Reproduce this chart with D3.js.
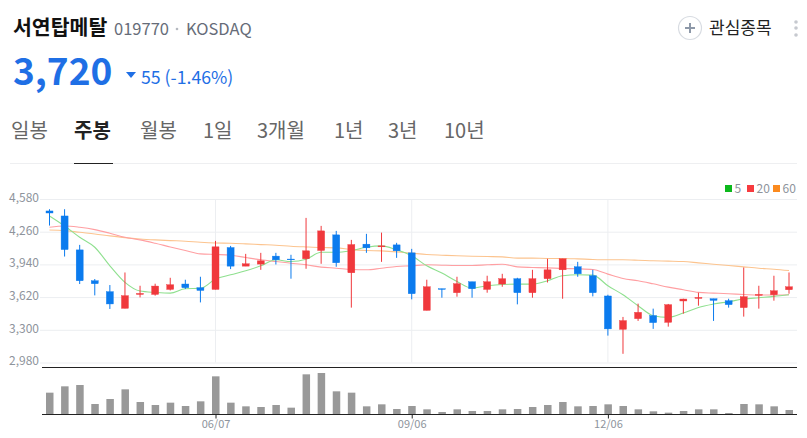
<!DOCTYPE html>
<html>
<head>
<meta charset="utf-8">
<script src="https://cdn.jsdelivr.net/npm/d3@7"></script>
<style>
    body { margin: 0; background: #fff; }
    svg { display: block; font-family: "Noto Sans CJK KR", sans-serif; }
</style>
</head>
<body>
<div id="chart"></div>
<script>
const weeks = ["03/22", "03/29", "04/05", "04/12", "04/19", "04/26", "05/03", "05/10", "05/17", "05/24",
    "05/31", "06/07", "06/14", "06/21", "06/28", "07/05", "07/12", "07/19", "07/26", "08/02",
    "08/09", "08/16", "08/23", "08/30", "09/06", "09/13", "09/20", "09/27", "10/04", "10/11",
    "10/18", "10/25", "11/01", "11/08", "11/15", "11/22", "11/29", "12/06", "12/13", "12/20",
    "12/27", "01/03", "01/10", "01/17", "01/24", "01/31", "02/07", "02/14", "02/21", "02/28"];

const open = [4463, 4414, 4082, 3780, 3673, 3510, 3646, 3646, 3695, 3748,
    3712, 3695, 4105, 3923, 3943, 4021, 3992, 3995, 4076, 4229,
    3858, 4138, 4112, 4131, 4053, 3490, 3702, 3663, 3770, 3695,
    3748, 3800, 3663, 3800, 3887, 3917, 3829, 3631, 3305, 3409,
    3439, 3373, 3582, 3607, 3604, 3585, 3517, 3637, 3643, 3692];
const close = [4443, 4085, 3780, 3751, 3553, 3634, 3656, 3728, 3741, 3712,
    3685, 4112, 3923, 3946, 3975, 3985, 3985, 4073, 4268, 3956,
    4134, 4102, 4121, 4073, 3653, 3721, 3695, 3751, 3702, 3770,
    3800, 3663, 3800, 3887, 3995, 3848, 3663, 3309, 3390, 3471,
    3370, 3546, 3601, 3617, 3588, 3546, 3624, 3646, 3682, 3721];
const high = [4480, 4480, 4131, 3797, 3738, 3861, 3731, 3751, 3809, 3790,
    3819, 4170, 4121, 4043, 4053, 4053, 4034, 4395, 4317, 4268,
    4180, 4239, 4251, 4151, 4092, 3790, 3702, 3819, 3770, 3829,
    3848, 3809, 3887, 3995, 3995, 3965, 3887, 3643, 3426, 3556,
    3507, 3553, 3604, 3663, 3604, 3604, 3910, 3731, 3829, 3861];
const low = [4320, 4017, 3748, 3637, 3504, 3510, 3617, 3634, 3685, 3699,
    3568, 3695, 3894, 3923, 3887, 3939, 3800, 3897, 3946, 3917,
    3517, 4053, 3965, 4004, 3598, 3490, 3614, 3624, 3614, 3663,
    3721, 3549, 3614, 3763, 3604, 3819, 3627, 3243, 3065, 3387,
    3309, 3331, 3458, 3536, 3387, 3517, 3429, 3507, 3585, 3653];

const ma5 = [4414, 4316, 4206, 4108, 3926, 3764, 3679, 3666, 3659, 3702,
    3705, 3796, 3838, 3877, 3926, 3985, 3968, 3991, 4059, 4059,
    4076, 4108, 4121, 4082, 4024, 3926, 3855, 3773, 3708, 3731,
    3744, 3747, 3747, 3780, 3829, 3838, 3835, 3731, 3643, 3536,
    3438, 3422, 3464, 3519, 3552, 3575, 3601, 3614, 3627, 3643];
const ma20 = [4303, 4316, 4303, 4280, 4245, 4206, 4180, 4147, 4111, 4076,
    4043, 4037, 4030, 4007, 3985, 3968, 3952, 3936, 3913, 3903,
    3890, 3887, 3903, 3920, 3926, 3936, 3932, 3929, 3929, 3936,
    3942, 3916, 3910, 3906, 3900, 3897, 3890, 3845, 3802, 3780,
    3750, 3718, 3692, 3666, 3659, 3653, 3646, 3640, 3640, 3643];
const ma60 = [4277, 4271, 4254, 4238, 4219, 4202, 4189, 4180, 4173, 4167,
    4157, 4150, 4147, 4141, 4134, 4128, 4118, 4111, 4105, 4102,
    4085, 4076, 4072, 4063, 4050, 4037, 4030, 4024, 4020, 4017,
    4014, 4001, 4001, 3998, 3998, 3994, 3988, 3985, 3985, 3981,
    3975, 3972, 3968, 3955, 3942, 3929, 3916, 3903, 3893, 3880];

const volume = [64, 83, 87, 30, 45, 74, 36, 27, 34, 24,
    38, 113, 34, 23, 21, 27, 19, 119, 123, 68,
    64, 23, 29, 15, 24, 14, 6, 14, 9, 9,
    14, 15, 21, 27, 36, 23, 24, 29, 24, 14,
    8, 4, 9, 14, 14, 3, 30, 29, 23, 12];

const priceTicks = [2980, 3300, 3620, 3940, 4260, 4580];
const dateTicks = ["06/07", "09/06", "12/06"];
const tabs = ["일봉", "주봉", "월봉", "1일", "3개월", "1년", "3년", "10년"];
const tabX = [11, 74, 140, 203, 257, 334, 388, 444];
const legendNames = ["5", "20", "60"];
const legendColors = ["#0cb81c", "#f73b3f", "#fb8a1e"];
const maColors = ["#8fe08f", "#ff9fa2", "#fcc48f"];

const blue = "#0b7bee";
const red = "#f0383c";
const width = 807, height = 438;
const plotLeft = 42, plotRight = 797;

const svg = d3.select("#chart")
    .append("svg")
    .attr("width", width)
    .attr("height", height);

// header
svg.append("text").attr("x", 13).attr("y", 35).attr("font-size", 20.5).attr("font-weight", 700)
    .attr("fill", "#111").text("서연탑메탈");
svg.append("text").attr("x", 114).attr("y", 35).attr("font-size", 16.5).attr("fill", "#666c78")
    .text("019770");
svg.append("circle").attr("cx", 177).attr("cy", 29).attr("r", 1.3).attr("fill", "#b5b9c0");
svg.append("text").attr("x", 186).attr("y", 35).attr("font-size", 16.5).attr("fill", "#666c78")
    .text("KOSDAQ");

svg.append("text").attr("x", 13).attr("y", 85).attr("font-size", 37).attr("font-weight", 700)
    .attr("fill", "#1f6fe5").text("3,720");
svg.append("path").attr("d", "M126,72h10l-5,6z").attr("fill", "#1f6fe5");
svg.append("text").attr("x", 141).attr("y", 84).attr("font-size", 17.7).attr("fill", "#1f6fe5")
    .text("55 (-1.46%)");

// watch button
svg.append("circle").attr("cx", 690).attr("cy", 28).attr("r", 11.5)
    .attr("fill", "none").attr("stroke", "#d8dce2").attr("stroke-width", 1.2);
svg.append("path").attr("d", "M685,28h10M690,23v10").attr("stroke", "#8d98a8").attr("stroke-width", 2);
svg.append("text").attr("x", 709).attr("y", 34).attr("font-size", 17).attr("fill", "#222")
    .text("관심종목");
svg.selectAll(".menuDot")
    .data([22, 28, 35])
    .join("circle")
    .attr("class", "menuDot")
    .attr("cx", 796)
    .attr("cy", d => d)
    .attr("r", 1.8)
    .attr("fill", "#c6c9cf");

// tabs
svg.selectAll(".tab")
    .data(tabs)
    .join("text")
    .attr("class", "tab")
    .attr("x", (d, i) => tabX[i])
    .attr("y", 138)
    .attr("font-size", 20)
    .attr("font-weight", d => d === "주봉" ? 700 : 400)
    .attr("fill", d => d === "주봉" ? "#222" : "#666")
    .text(d => d);
svg.append("line").attr("x1", 10).attr("x2", 797).attr("y1", 163.5).attr("y2", 163.5)
    .attr("stroke", "#eeeff1");
svg.append("line").attr("x1", 74).attr("x2", 113).attr("y1", 163.5).attr("y2", 163.5)
    .attr("stroke", "#222");

// scales
const x = d3.scalePoint().domain(weeks).range([49.5, 789]);
const y = d3.scaleLinear().domain([2980, 4580]).range([362.5, 199]);
const yVol = d3.scaleLinear().domain([0, 141]).range([414, 367]);

// price axis + horizontal grid
const yAxis = svg.append("g")
    .attr("transform", `translate(${plotLeft - 2},0)`)
    .call(d3.axisLeft(y)
        .tickValues(priceTicks)
        .tickFormat(d3.format(","))
        .tickSize(-(plotRight - plotLeft + 2))
        .tickPadding(1));
yAxis.select(".domain").remove();
yAxis.selectAll("line").attr("stroke", "#eceef1");
yAxis.selectAll("text")
    .attr("font-family", "'Noto Sans CJK KR', sans-serif")
    .attr("font-size", 12)
    .attr("fill", "#8e949c")
    .attr("dy", "0.2em");

// vertical grid
svg.selectAll(".vGrid")
    .data(dateTicks)
    .join("line")
    .attr("class", "vGrid")
    .attr("x1", d => x(d))
    .attr("x2", d => x(d))
    .attr("y1", y(4580))
    .attr("y2", y(2980))
    .attr("stroke", "#eceef1");

// moving averages
const maLine = d3.line()
    .x((d, i) => x(weeks[i]))
    .y(d => y(d))
    .curve(d3.curveMonotoneX);
svg.selectAll(".ma")
    .data([ma60, ma20, ma5])
    .join("path")
    .attr("class", "ma")
    .attr("d", maLine)
    .attr("fill", "none")
    .attr("stroke", (d, i) => maColors[2 - i])
    .attr("stroke-width", 1.1);

// candles
const candles = svg.append("g")
    .selectAll("g")
    .data(weeks)
    .join("g")
    .attr("fill", (d, i) => close[i] >= open[i] ? red : blue)
    .attr("stroke", (d, i) => close[i] >= open[i] ? red : blue);
candles.append("line")
    .attr("x1", d => x(d))
    .attr("x2", d => x(d))
    .attr("y1", (d, i) => y(high[i]))
    .attr("y2", (d, i) => y(low[i]))
    .attr("stroke-width", 1);
candles.append("rect")
    .attr("x", d => x(d) - 3.5)
    .attr("width", 7)
    .attr("y", (d, i) => y(Math.max(open[i], close[i])))
    .attr("height", (d, i) => Math.abs(y(open[i]) - y(close[i])))
    .attr("stroke-width", 0.4);

// volume
svg.selectAll(".vol")
    .data(volume)
    .join("rect")
    .attr("class", "vol")
    .attr("x", (d, i) => x(weeks[i]) - 3.5)
    .attr("width", 7.5)
    .attr("y", d => yVol(d))
    .attr("height", d => yVol(0) - yVol(d))
    .attr("fill", "#999");

svg.append("line").attr("x1", plotLeft).attr("x2", plotRight).attr("y1", 367.5).attr("y2", 367.5)
    .attr("stroke", "#222");

// date axis
const xAxis = svg.append("g")
    .attr("transform", "translate(0,414.5)")
    .call(d3.axisBottom(x).tickValues(dateTicks).tickSize(4).tickPadding(2).tickSizeOuter(0));
xAxis.select(".domain").attr("stroke", "#222")
    .attr("d", `M${plotLeft},0H${plotRight}`);
xAxis.selectAll("line").attr("stroke", "#222");
xAxis.selectAll("text")
    .attr("font-family", "'Noto Sans CJK KR', sans-serif")
    .attr("font-size", 11)
    .attr("fill", "#8e949c");

// legend
const legendX = [725, 747, 773];
const legend = svg.selectAll(".legend")
    .data(legendNames)
    .join("g")
    .attr("class", "legend")
    .attr("transform", (d, i) => `translate(${legendX[i]},185)`);
legend.append("rect")
    .attr("width", 7)
    .attr("height", 7)
    .attr("fill", (d, i) => legendColors[i]);
legend.append("text")
    .attr("x", 9.5)
    .attr("y", 7.5)
    .attr("font-size", 12)
    .attr("fill", "#8e949c")
    .text(d => d);
</script>
</body>
</html>
